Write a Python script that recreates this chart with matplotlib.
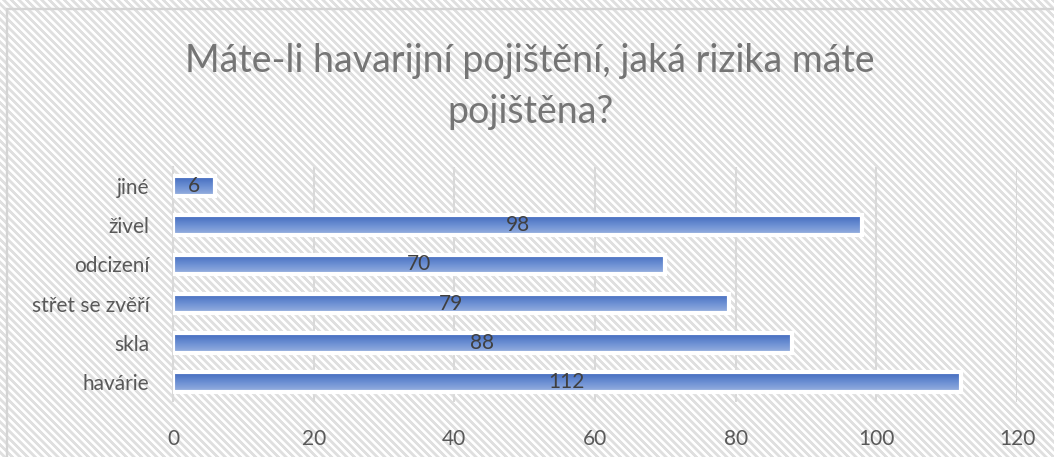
import matplotlib
matplotlib.use("Agg")
import matplotlib.pyplot as plt
from matplotlib.patches import Rectangle
from matplotlib.colors import LinearSegmentedColormap
import numpy as np

categories = ["havárie", "skla", "střet se zvěří", "odcizení", "živel", "jiné"]
values = [112, 88, 79, 70, 98, 6]
xticks = [0, 20, 40, 60, 80, 100, 120]
title_lines = ["Máte-li havarijní pojištění, jaká rizika máte", "pojištěna?"]

plt.rcParams["font.family"] = ["Lato", "DejaVu Sans"]

W, H = 1054, 457
fig = plt.figure(figsize=(W / 100, H / 100), dpi=100)
fig.patch.set_facecolor("white")

# striped background (pure decoration)
bgax = fig.add_axes([0, 0, 1, 1], zorder=-5)
bgax.set_axis_off()
rows, cols = np.mgrid[0:H, 0:W]
P = 7.6
phase = ((cols - rows) / P) % 1.0
dist = np.abs(phase - 0.5) * P
stripe = np.clip(2.0 - dist + 0.5, 0, 1)
grey = np.array([0.875, 0.875, 0.875])
white = np.array([1.0, 1.0, 1.0])
img = white[None, None, :] * (1 - stripe[..., None]) + grey[None, None, :] * stripe[..., None]
bgax.imshow(img, extent=(0, 1, 0, 1), aspect="auto", interpolation="nearest")
bgax.set_xlim(0, 1)
bgax.set_ylim(0, 1)
border = Rectangle((7 / W, -0.1), 1.2, 1.1 - 9.5 / H, transform=fig.transFigure,
                   facecolor="none", edgecolor="#d4d4d4", lw=1.7, zorder=-1)
fig.patches.append(border)

ax = fig.add_axes([173 / W, 1 - 401.5 / H, (1017 - 173) / W, (401.5 - 166.5) / H])
ax.set_facecolor("none")

y = np.arange(len(categories))
bars = ax.barh(y, values, height=0.5, color="none", edgecolor="white", lw=3, zorder=4)

cmap = LinearSegmentedColormap.from_list("g", ["#9ab2e0", "#6b8fd3", "#4169bd"])
grad = np.linspace(0, 1, 64).reshape(-1, 1)
for b in bars:
    x0, y0, w, h = b.get_x(), b.get_y(), b.get_width(), b.get_height()
    im = ax.imshow(grad, cmap=cmap, origin="lower", aspect="auto",
                   extent=(x0, x0 + w, y0, y0 + h), zorder=3, interpolation="bilinear")
    im.set_clip_path(b)

for yi, v in zip(y, values):
    ax.text(v / 2, yi, str(v), ha="center", va="center", fontsize=15,
            color="#404040", zorder=5)

ax.set_xlim(0, 120)
ax.set_ylim(-0.5, len(categories) - 0.5)
ax.set_xticks(xticks)
ax.set_xticklabels([str(t) for t in xticks])
ax.set_yticks(y)
ax.set_yticklabels(categories)
ax.tick_params(axis="both", length=0, labelsize=15, labelcolor="#595959")
ax.tick_params(axis="x", pad=20)
ax.tick_params(axis="y", pad=17)
ax.grid(axis="x", color="#d9d9d9", lw=1.5, zorder=1)
ax.set_axisbelow(True)
for s in ["top", "right", "bottom"]:
    ax.spines[s].set_visible(False)
ax.spines["left"].set_color("#d9d9d9")
ax.spines["left"].set_linewidth(1.5)

fig.text(530 / W, 1 - 72 / H, title_lines[0], ha="center", va="baseline", fontsize=27,
         color="#757575")
fig.text(530 / W, 1 - 123 / H, title_lines[1], ha="center", va="baseline", fontsize=27,
         color="#757575")

fig.savefig("out.png", dpi=100)
